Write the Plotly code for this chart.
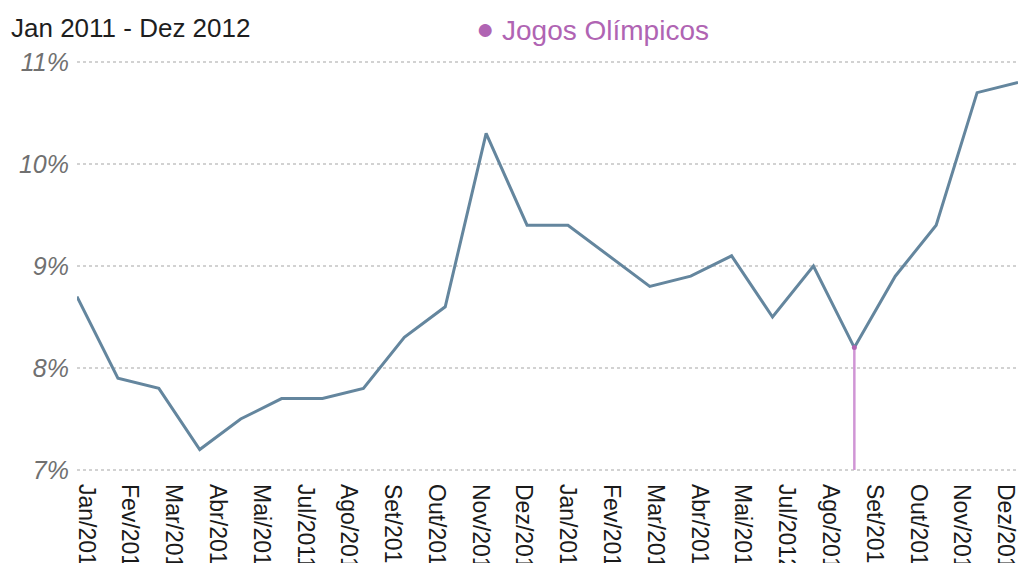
import numpy as np
import plotly.graph_objects as go

# Monthly rate, Jan/2011 .. Dez/2012 (percent)
months = [
    "Jan/2011", "Fev/2011", "Mar/2011", "Abr/2011", "Mai/2011", "Jun/2011",
    "Jul/2011", "Ago/2011", "Set/2011", "Out/2011", "Nov/2011", "Dez/2011",
    "Jan/2012", "Fev/2012", "Mar/2012", "Abr/2012", "Mai/2012", "Jun/2012",
    "Jul/2012", "Ago/2012", "Set/2012", "Out/2012", "Nov/2012", "Dez/2012",
]
rate = [8.7, 7.9, 7.8, 7.2, 7.5, 7.7, 7.7, 7.8, 8.3, 8.6, 10.3, 9.4,
        9.4, 9.1, 8.8, 8.9, 9.1, 8.5, 9.0, 8.2, 8.9, 9.4, 10.7, 10.8]

# Axis labels shown under the chart
tick_labels = [
    "Jan/2011", "Fev/2011", "Mar/2011", "Abr/2011", "Mai/2011", "Jul/2011",
    "Ago/2011", "Set/2011", "Out/2011", "Nov/2011", "Dez/2011",
    "Jan/2012", "Fev/2012", "Mar/2012", "Abr/2012", "Mai/2012", "Jul/2012",
    "Ago/2012", "Set/2012", "Out/2012", "Nov/2012", "Dez/2012",
]
y_ticks = [7, 8, 9, 10, 11]
y_tick_text = ["7%", "8%", "9%", "10%", "11%"]

event_label = "Jogos Olímpicos"
event_month = "Ago/2012"

x = list(range(len(months)))
ev_i = months.index(event_month)
tick_pos = np.linspace(0.22, 22.7, len(tick_labels))

LINE = "#64869e"
PURPLE = "#b064b3"

fig = go.Figure()
fig.add_trace(go.Scatter(
    x=x, y=rate, mode="lines",
    line=dict(color=LINE, width=3),
    hoverinfo="skip", showlegend=False,
))
fig.add_trace(go.Scatter(
    x=[ev_i, ev_i], y=[y_ticks[0], rate[ev_i]], mode="lines",
    line=dict(color="#d095d5", width=2.5),
    hoverinfo="skip", showlegend=False,
))
fig.add_trace(go.Scatter(
    x=[ev_i], y=[rate[ev_i]], mode="markers",
    marker=dict(color=PURPLE, size=5),
    hoverinfo="skip", showlegend=False,
))

PLOT_W, PLOT_H = 941, 412

fig.update_layout(
    width=1018, height=563,
    margin=dict(l=77, r=0, t=60, b=91, autoexpand=False),
    paper_bgcolor="white", plot_bgcolor="white",
    font=dict(family="Liberation Sans, Arial, sans-serif"),
    xaxis=dict(
        range=[0, 23.0], tickmode="array",
        tickvals=list(tick_pos), ticktext=tick_labels,
        tickangle=90, showgrid=False, zeroline=False, showline=False,
        ticks="", ticklabelstandoff=11, automargin=False,
        ticklabeloverflow="allow",
        tickfont=dict(size=23, color="#1a1a1a"),
    ),
    yaxis=dict(
        range=[6.98, 11.02], tickmode="array",
        tickvals=y_ticks, ticktext=y_tick_text,
        showgrid=True, gridcolor="#d2d2d2", gridwidth=2, griddash="dot",
        zeroline=False, showline=False, ticks="", ticklabelstandoff=7,
        automargin=False,
        tickfont=dict(size=25, color="#707070", style="italic"),
    ),
    annotations=[
        dict(text="Jan 2011 - Dez 2012", xref="paper", yref="paper",
             x=(9 - 77) / PLOT_W, y=1 + 32 / PLOT_H, xanchor="left", yanchor="middle",
             showarrow=False, font=dict(size=26, color="#1e1e1e")),
        dict(text="\u25cf", xref="paper", yref="paper",
             x=(485 - 77) / PLOT_W, y=1 + 31 / PLOT_H, xanchor="center", yanchor="middle",
             showarrow=False, font=dict(size=30, color=PURPLE)),
        dict(text=event_label, xref="paper", yref="paper",
             x=(500 - 77) / PLOT_W, y=1 + 30 / PLOT_H, xanchor="left", yanchor="middle",
             showarrow=False, font=dict(size=28, color=PURPLE)),
    ],
)

fig.write_html("out.html")
